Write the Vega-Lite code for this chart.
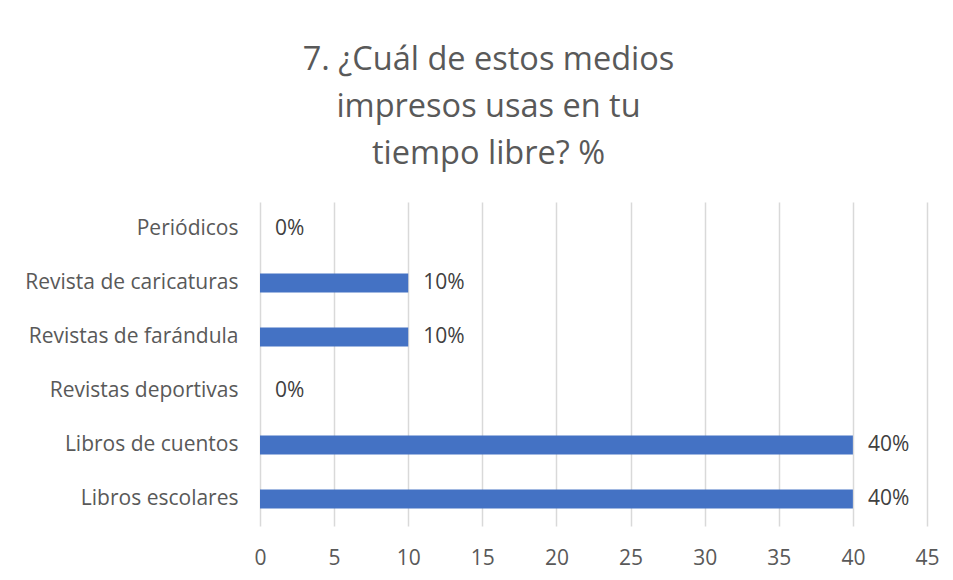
{
  "$schema": "https://vega.github.io/schema/vega-lite/v6.json",
  "width": 667,
  "height": 324,
  "autosize": {"type": "none"},
  "padding": {"left": 260, "top": 202, "right": 26, "bottom": 54},
  "background": "white",
  "config": {
    "view": {"stroke": null},
    "font": "Open Sans"
  },
  "title": {
    "text": ["7. ¿Cuál de estos medios", "impresos usas en tu", "tiempo libre? %"],
    "fontSize": 32.5,
    "fontWeight": "normal",
    "color": "#595959",
    "font": "Open Sans",
    "lineHeight": 47,
    "anchor": "middle",
    "dx": -105,
    "offset": 32
  },
  "data": {
    "values": [
      {"medio": "Periódicos", "valor": 0, "etiqueta": "0%"},
      {"medio": "Revista de caricaturas", "valor": 10, "etiqueta": "10%"},
      {"medio": "Revistas de farándula", "valor": 10, "etiqueta": "10%"},
      {"medio": "Revistas deportivas", "valor": 0, "etiqueta": "0%"},
      {"medio": "Libros de cuentos", "valor": 40, "etiqueta": "40%"},
      {"medio": "Libros escolares", "valor": 40, "etiqueta": "40%"}
    ]
  },
  "encoding": {
    "y": {
      "field": "medio",
      "type": "nominal",
      "sort": null,
      "scale": {"paddingInner": 0.65, "paddingOuter": 0.325},
      "axis": {
        "title": null,
        "domain": false,
        "ticks": false,
        "labelFontSize": 21,
        "labelColor": "#595959",
        "labelPadding": 22,
        "labelLimit": 400
      }
    },
    "x": {
      "field": "valor",
      "type": "quantitative",
      "scale": {"domain": [0, 45], "nice": false},
      "axis": {
        "title": null,
        "values": [0, 5, 10, 15, 20, 25, 30, 35, 40, 45],
        "domain": false,
        "ticks": false,
        "grid": true,
        "gridColor": "#d9d9d9",
        "gridWidth": 1.5,
        "labelFlush": false,
        "labelFontSize": 21,
        "labelColor": "#595959",
        "labelPadding": 21
      }
    }
  },
  "layer": [
    {"mark": {"type": "bar", "color": "#4472C4"}},
    {
      "mark": {"type": "text", "align": "left", "baseline": "middle", "dx": 15, "fontSize": 21, "color": "#404040"},
      "encoding": {"text": {"field": "etiqueta"}}
    }
  ]
}
